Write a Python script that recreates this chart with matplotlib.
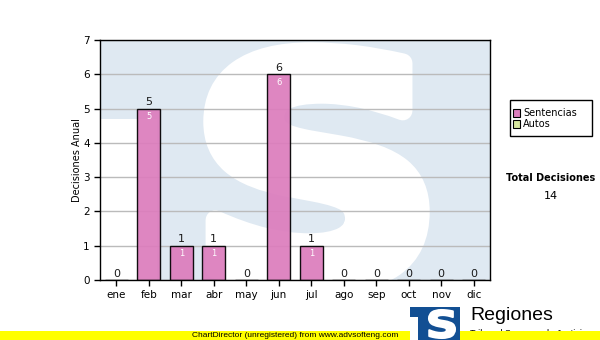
import numpy as np
import matplotlib
matplotlib.use("Agg")
import matplotlib.pyplot as plt
from matplotlib.patches import Rectangle, PathPatch
from matplotlib.textpath import TextPath
from matplotlib.font_manager import FontProperties
from matplotlib.transforms import Affine2D

months = ["ene", "feb", "mar", "abr", "may", "jun", "jul", "ago", "sep", "oct", "nov", "dic"]
sentencias = [0, 5, 1, 1, 0, 6, 1, 0, 0, 0, 0, 0]
autos = [0, 0, 0, 0, 0, 0, 0, 0, 0, 0, 0, 0]
series_names = ["Sentencias", "Autos"]
total = sum(sentencias) + sum(autos)

W, H = 600, 340
pink = "#dc7dbd"
green = "#d8e8a0"
wm_blue = "#dfe9f2"
logo_blue = "#124f93"

fig = plt.figure(figsize=(6, 3.4), dpi=100)
fig.patch.set_facecolor("white")


def fx(px):
    return px / W


def fy(py):
    # image coords (top-down) -> figure fraction
    return 1 - py / H


ax = fig.add_axes([fx(100), fy(280), fx(390), 240 / H])

# watermark: faded logo (light blue square, white notch, white S)
ax.add_patch(Rectangle((0, 0), 1, 1, transform=ax.transAxes, color=wm_blue, zorder=0.1, lw=0))
ax.add_patch(Rectangle((0, 0), 57 / 390, 0.67, transform=ax.transAxes, color="white", zorder=0.2, lw=0))


def s_patch(x0, y0, x1, y1, color, z, lw=0):
    tp = TextPath((0, 0), "S", size=1, prop=FontProperties(family="DejaVu Sans", weight="bold"))
    ext = tp.get_extents()
    sx = (fx(x1) - fx(x0)) / ext.width
    sy = (fy(y0) - fy(y1)) / ext.height
    tr = Affine2D().translate(-ext.x0, -ext.y0).scale(sx, sy).translate(fx(x0), fy(y1))
    return PathPatch(tr.transform_path(tp), transform=fig.transFigure, facecolor=color,
                     edgecolor=color, lw=lw, joinstyle="round", zorder=z)


sp = s_patch(213, 52, 420, 285, "white", 0.3, lw=14)
ax.add_patch(sp)
sp.set_clip_path(ax.patch)

x = np.arange(len(months))
ax.bar(x, sentencias, width=0.7, color=pink, alpha=0.93, edgecolor="black", linewidth=1, zorder=3)

for xi, v in zip(x, sentencias):
    ax.annotate(str(v), (xi, v), xytext=(0, 1), textcoords="offset points",
                ha="center", va="bottom", fontsize=8, color="#1a1a1a", zorder=4)
    if v > 0:
        ax.annotate(str(v), (xi, v), xytext=(0, -2.5), textcoords="offset points",
                    ha="center", va="top", fontsize=6, color="white", zorder=4)

ax.set_xlim(-0.5, len(months) - 0.5)
ax.set_ylim(0, 7)
ax.set_yticks(range(8))
ax.set_xticks(x)
ax.set_xticklabels(months)
ax.tick_params(axis="both", labelsize=7.5, length=4, width=1, direction="out", color="black")
ax.grid(axis="y", color="#bbbbbb", linewidth=1, zorder=1)
ax.set_axisbelow(True)
for s in ax.spines.values():
    s.set_linewidth(1)
    s.set_zorder(5)
ax.set_ylabel("Decisiones Anual", fontsize=7, labelpad=1)

# legend box
fig.patches.append(Rectangle((fx(510), fy(136)), fx(82), 36 / H, transform=fig.transFigure,
                             facecolor="white", edgecolor="black", lw=1))
for i, (name, col) in enumerate(zip(series_names, [pink, green])):
    yy = 113 + i * 11
    fig.patches.append(Rectangle((fx(513), fy(yy + 3.5)), fx(7), 7 / H, transform=fig.transFigure,
                                 facecolor=col, edgecolor="black", lw=0.8))
    fig.text(fx(523), fy(yy), name, fontsize=7, va="center", ha="left")

fig.text(fx(551), fy(178), "Total Decisiones", fontsize=7, fontweight="bold", ha="center", va="center")
fig.text(fx(551), fy(196), str(total), fontsize=8, ha="center", va="center")

# bottom: logo, yellow band
fig.text(fx(470), fy(316), "Regiones", fontsize=14, family="Liberation Sans", ha="left", va="center", zorder=1)
fig.text(fx(470), fy(334), "Tribunal Supremo de Justicia", fontsize=6.5, family="Liberation Sans",
         ha="left", va="center", zorder=1)
fig.patches.append(Rectangle((0, 0), 1, 9.5 / H, transform=fig.transFigure, color="#ffff00", lw=0, zorder=2))
fig.text(fx(295), fy(335.5), "ChartDirector (unregistered) from www.advsofteng.com", fontsize=6,
         family="Liberation Sans", ha="center", va="center", zorder=3)
fig.patches.append(Rectangle((fx(410), 0), fx(50), 33 / H, transform=fig.transFigure,
                             color=logo_blue, lw=0, zorder=4))
fig.patches.append(Rectangle((fx(410), 0), fx(8), 23 / H, transform=fig.transFigure,
                             color="white", lw=0, zorder=5))
fig.patches.append(s_patch(429, 310, 455, 338, "white", 6, lw=1.5))

fig.savefig("out.png", dpi=100)
